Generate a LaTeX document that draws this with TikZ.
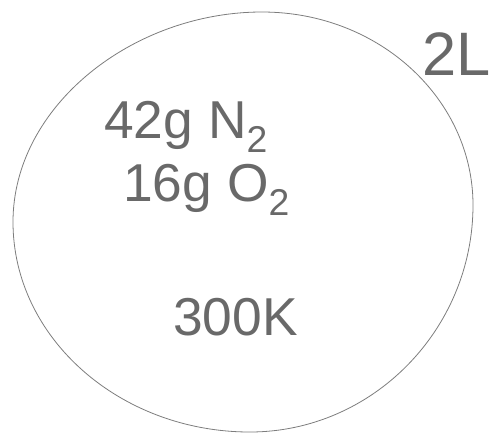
\documentclass[tikz,border=0pt]{standalone}
\usepackage{fontspec}
\setmainfont{Liberation Sans}
\usepackage{tikz}

\begin{document}
\begin{tikzpicture}[x=0.75pt,y=0.75pt,yscale=-1,xscale=1]
\useasboundingbox (0,0) rectangle (499,433);

%Shape: Circle [id:vessel]
\draw [color={rgb, 255:red, 125; green, 125; blue, 125 }, line width=0.6pt]  (13,222) .. controls (13,106) and (133,12) .. (262,12) .. controls (380,12) and (473,100) .. (473,205) .. controls (473,330) and (372,432) .. (250,432) .. controls (120,432) and (13,338) .. (13,222) -- cycle ;

% Text Node
\node (nitrogen) at (103,138) [anchor=base west, inner sep=0.75pt, color={rgb, 255:red, 105; green, 105; blue, 105 }, font=\fontsize{40}{44}\selectfont] {42g N\textsubscript{2}};
% Text Node
\node (oxygen) at (122,201) [anchor=base west, inner sep=0.75pt, color={rgb, 255:red, 105; green, 105; blue, 105 }, font=\fontsize{40}{44}\selectfont] {16g O\textsubscript{2}};
% Text Node
\node (temp) at (172,335) [anchor=base west, inner sep=0.75pt, color={rgb, 255:red, 105; green, 105; blue, 105 }, font=\fontsize{40}{44}\selectfont] {300K};
% Text Node
\node (volume) at (421,75) [anchor=base west, inner sep=0.75pt, color={rgb, 255:red, 105; green, 105; blue, 105 }, font=\fontsize{46}{50}\selectfont] {2L};
\end{tikzpicture}
\end{document}
